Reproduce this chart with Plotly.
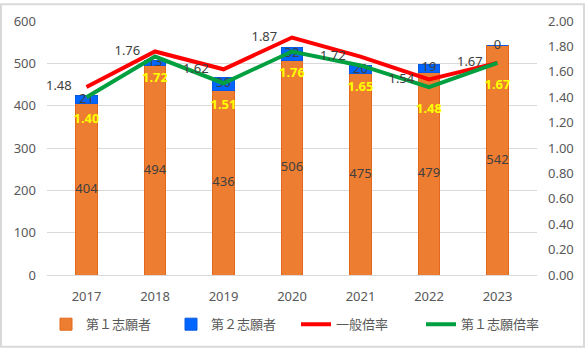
import plotly.graph_objects as go

years = ["2017", "2018", "2019", "2020", "2021", "2022", "2023"]
first_choice = [404, 494, 436, 506, 475, 479, 542]
second_choice = [21, 13, 30, 32, 20, 19, 0]
general_ratio = [1.48, 1.76, 1.62, 1.87, 1.72, 1.54, 1.67]
first_ratio = [1.40, 1.72, 1.51, 1.76, 1.65, 1.48, 1.67]

left_ticks = [0, 100, 200, 300, 400, 500, 600]
right_ticks = [0.0, 0.2, 0.4, 0.6, 0.8, 1.0, 1.2, 1.4, 1.6, 1.8, 2.0]

names = ["第１志願者", "第２志願者", "一般倍率", "第１志願倍率"]

FONT = "Noto Sans, Noto Sans CJK JP, sans-serif"
GRAY = "#595959"
LABEL = "#404040"

fig = go.Figure()

fig.add_trace(go.Bar(
    x=years, y=first_choice, name=names[0], width=0.31,
    marker=dict(color="#ED7D31", line=dict(color="#E2691C", width=1)),
    hoverinfo="skip",
))
fig.add_trace(go.Bar(
    x=years, y=second_choice, name=names[1], width=0.31,
    marker=dict(color="#0066FF", line=dict(color="#0A5AE0", width=1)),
    hoverinfo="skip",
))
fig.add_trace(go.Scatter(
    x=years, y=general_ratio, name=names[2], yaxis="y2", mode="lines",
    line=dict(color="#FF0000", width=4), hoverinfo="skip",
))
fig.add_trace(go.Scatter(
    x=years, y=first_ratio, name=names[3], yaxis="y2", mode="lines",
    line=dict(color="#00A040", width=4), hoverinfo="skip",
))

# bar labels (centered in segments)
fig.add_trace(go.Scatter(
    x=years, y=[v / 2 for v in first_choice], mode="text",
    text=[str(v) for v in first_choice], textposition="middle center",
    textfont=dict(family=FONT, size=13, color=LABEL),
    showlegend=False, hoverinfo="skip",
))
fig.add_trace(go.Scatter(
    x=years, y=[a + b / 2 for a, b in zip(first_choice, second_choice)], mode="text",
    text=[str(v) for v in second_choice], textposition="middle center",
    textfont=dict(family=FONT, size=13, color=LABEL),
    showlegend=False, hoverinfo="skip",
))
# line labels
fig.add_trace(go.Scatter(
    x=years, y=general_ratio, yaxis="y2", mode="markers+text",
    marker=dict(size=22, color="rgba(0,0,0,0)"),
    text=[f"{v:.2f}" for v in general_ratio], textposition="middle left",
    textfont=dict(family=FONT, size=13, color=LABEL),
    showlegend=False, hoverinfo="skip",
))
fig.add_trace(go.Scatter(
    x=years, y=first_ratio, yaxis="y2", mode="markers+text",
    marker=dict(size=24, color="rgba(0,0,0,0)"),
    text=[f"{v:.2f}" for v in first_ratio], textposition="bottom center",
    textfont=dict(family=FONT, size=13, color="#FFFF00", weight="bold"),
    showlegend=False, hoverinfo="skip",
))

W, H = 586, 351
L, R, T, B = 47, 49, 18, 75
pw, ph = W - L - R, H - T - B

def px(x):
    return (x - L) / pw

def py(y):
    return (H - B - y) / ph

fig.update_layout(
    width=W, height=H,
    margin=dict(l=L, r=R, t=T, b=B),
    paper_bgcolor="white", plot_bgcolor="white",
    barmode="stack",
    font=dict(family=FONT, size=13, color=GRAY),
    xaxis=dict(
        type="category", showgrid=False, showline=True, linecolor="#D9D9D9",
        linewidth=1, ticks="", tickfont=dict(size=13, color=GRAY),
        ticklabelstandoff=9,
    ),
    yaxis=dict(
        range=[0, 600], tickvals=left_ticks, showgrid=True, gridcolor="#D9D9D9",
        zeroline=False, ticks="", tickfont=dict(size=13, color=GRAY),
        ticklabelstandoff=10,
    ),
    yaxis2=dict(
        range=[0, 2], tickvals=right_ticks, tickformat=".2f", overlaying="y",
        side="right", showgrid=False, zeroline=False, ticks="",
        tickfont=dict(size=13, color=GRAY), ticklabelstandoff=10,
    ),
    legend=dict(
        orientation="h", x=px(46), xanchor="left", y=py(326), yanchor="middle",
        font=dict(size=13, color=GRAY), traceorder="normal",
        bgcolor="rgba(0,0,0,0)", entrywidth=80, entrywidthmode="pixels",
    ),
    shapes=[dict(
        type="rect", xref="paper", yref="paper",
        x0=px(1), x1=px(584), y0=py(349), y1=py(1),
        line=dict(color="#D9D9D9", width=2), fillcolor="rgba(0,0,0,0)",
        layer="below",
    )],
    hovermode=False,
)

fig.write_html("out.html", config={"displayModeBar": False})
